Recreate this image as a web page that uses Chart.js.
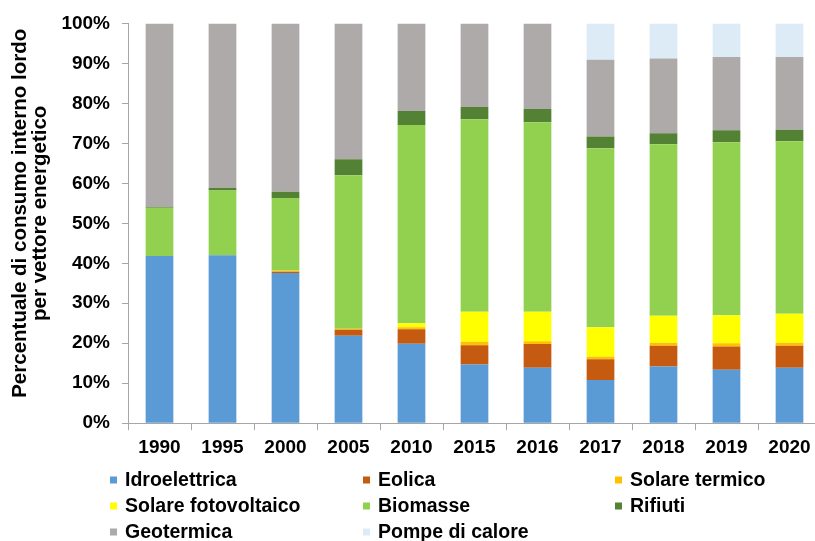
<!DOCTYPE html>
<html>
<head>
<meta charset="utf-8">
<script src="https://cdn.jsdelivr.net/npm/chart.js@4/dist/chart.umd.min.js"></script>
<style>
  html, body { margin: 0; padding: 0; background: #fff; overflow: hidden; }
  #wrap { position: relative; width: 830px; height: 541px; }
</style>
</head>
<body>
<div id="wrap"><canvas id="c" width="830" height="541"></canvas></div>
<script>
const categories = ['1990','1995','2000','2005','2010','2015','2016','2017','2018','2019','2020'];
const idroelettrica      = [41.8, 42.0, 37.6, 21.9, 19.9, 14.7, 13.9, 10.8, 14.2, 13.4, 13.9];
const eolica             = [0.0, 0.0, 0.3, 1.5, 3.6, 4.8, 5.9, 5.2, 5.2, 5.8, 5.5];
const solareTermico      = [0.0, 0.0, 0.3, 0.2, 0.5, 0.9, 0.7, 0.6, 0.7, 0.8, 0.7];
const solareFotovoltaico = [0.0, 0.0, 0.0, 0.0, 1.0, 7.5, 7.4, 7.4, 6.8, 7.0, 7.3];
const biomasse           = [12.1, 16.2, 18.1, 38.4, 49.6, 48.1, 47.4, 44.8, 42.9, 43.3, 43.1];
const rifiuti            = [0.2, 0.7, 1.6, 4.0, 3.5, 3.1, 3.3, 2.9, 2.7, 3.0, 2.9];
const geotermica         = [45.9, 41.1, 42.1, 34.0, 21.9, 20.9, 21.4, 19.2, 18.7, 18.3, 18.2];
const pompeDiCalore      = [0, 0, 0, 0, 0, 0, 0, 9.1, 8.8, 8.4, 8.4];
const yTicks = [0, 10, 20, 30, 40, 50, 60, 70, 80, 90, 100];
const yTitleLines = ['Percentuale di consumo interno lordo', 'per vettore energetico'];

const seriesNames = ['Idroelettrica','Eolica','Solare termico','Solare fotovoltaico','Biomasse','Rifiuti','Geotermica','Pompe di calore'];
const seriesData = [idroelettrica, eolica, solareTermico, solareFotovoltaico, biomasse, rifiuti, geotermica, pompeDiCalore];
const seriesColors = ['#5B9BD5','#C55A11','#FFC000','#FFFF00','#92D050','#548235','#AEAAAA','#DDEBF7'];

const FONT = "'Liberation Sans', Arial, sans-serif";

const legendPlugin = {
  id: 'gridLegend',
  afterDraw(chart) {
    const ctx = chart.ctx;
    const colX = [110, 363, 615];
    const rowY = [480, 506, 532];
    ctx.save();
    ctx.font = 'bold 19.5px ' + FONT;
    ctx.textBaseline = 'middle';
    ctx.textAlign = 'left';
    chart.data.datasets.forEach((ds, i) => {
      const x = colX[i % 3];
      const y = rowY[Math.floor(i / 3)];
      ctx.fillStyle = ds.backgroundColor;
      ctx.fillRect(x, y - 3.5, 7, 7);
      ctx.fillStyle = '#000';
      ctx.fillText(ds.label, x + 15, y + 0.5);
    });
    ctx.restore();
  }
};

const yTitlePlugin = {
  id: 'yTitle',
  afterDraw(chart) {
    const ctx = chart.ctx;
    const cy = chart.chartArea.top + (chart.chartArea.bottom - chart.chartArea.top) / 2 - 10;
    const xs = [20, 40.5];
    ctx.save();
    ctx.font = 'bold 20.5px ' + FONT;
    ctx.fillStyle = '#000';
    ctx.textAlign = 'center';
    ctx.textBaseline = 'middle';
    yTitleLines.forEach((t, i) => {
      ctx.save();
      ctx.translate(xs[i], cy);
      ctx.rotate(-Math.PI / 2);
      ctx.fillText(t, 0, 0);
      ctx.restore();
    });
    ctx.restore();
  }
};

new Chart(document.getElementById('c'), {
  type: 'bar',
  data: {
    labels: categories,
    datasets: seriesNames.map((n, i) => ({
      label: n,
      data: seriesData[i],
      backgroundColor: seriesColors[i],
      borderWidth: 0,
      categoryPercentage: 1.0,
      barPercentage: 0.44
    }))
  },
  options: {
    responsive: false,
    animation: false,
    layout: { padding: { left: 0, right: 9, top: 13, bottom: 76 } },
    plugins: {
      legend: { display: false },
      tooltip: { enabled: false }
    },
    scales: {
      x: {
        stacked: true,
        grid: { display: true, drawOnChartArea: false, drawTicks: true, tickLength: 7, color: '#A6A6A6', offset: true },
        border: { display: true, color: '#A6A6A6', width: 1 },
        ticks: { color: '#000', font: { family: FONT, size: 19, weight: 'bold' }, padding: 6, maxRotation: 0, autoSkip: false }
      },
      y: {
        stacked: true,
        min: 0,
        max: 100,
        afterBuildTicks(scale) { scale.ticks = yTicks.map(v => ({ value: v })); },
        afterFit(scale) { scale.width = 128; },
        grid: { display: true, drawOnChartArea: false, drawTicks: true, tickLength: 6, color: '#A6A6A6' },
        border: { display: true, color: '#A6A6A6', width: 1 },
        ticks: { color: '#000', font: { family: FONT, size: 19, weight: 'bold' }, padding: 12, callback: v => v + '%' },
        title: { display: false }
      }
    }
  },
  plugins: [legendPlugin, yTitlePlugin]
});
</script>
</body>
</html>
